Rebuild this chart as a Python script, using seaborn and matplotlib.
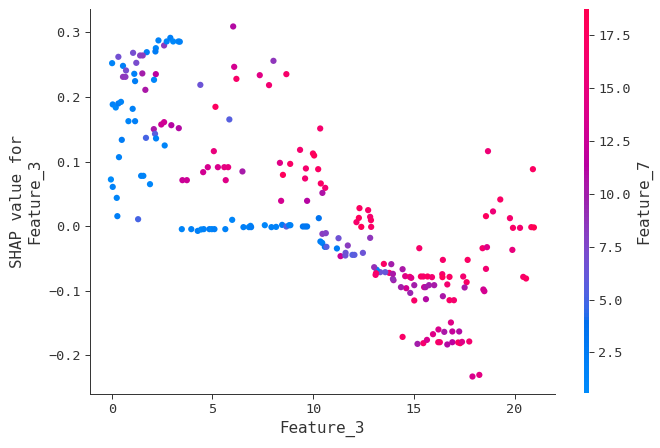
import numpy as np
import pandas as pd
import matplotlib
matplotlib.use("Agg")
import matplotlib.pyplot as plt
import seaborn as sns
from matplotlib.colors import ListedColormap, Normalize

# feature value (x), shap value (y), interaction feature (colour)
feature_3 = [
    2.32, 2.60, 2.73, 2.91, 3.05, 3.31, 3.38, 2.19, 2.17, 1.74,
    1.41, 1.54, 1.06, 1.22, 0.33, 0.02, 0.56, 0.71, 0.56, 0.68,
    1.12, 1.52, 2.19, 1.16, 2.10, 1.67, 4.40, 0.05, 0.20, 0.33,
    0.46, 1.04, 0.83, 1.16, 5.15, 2.09, 2.46, 2.60, 2.96, 3.33,
    2.15, 6.03, 8.03, 6.08, 6.19, 7.35, 8.67, 7.81, 5.84, 10.35,
    1.70, 2.20, 2.63, 0.50, 0.36, 5.07, 9.35, 9.99, 10.05, 8.35,
    8.86, 9.64, 10.25, 8.50, 9.60, 10.38, 10.60, 10.46, 4.54, 4.77,
    5.27, 5.59, 5.78, 6.49, 5.66, 3.51, 3.73, 1.46, 1.57, 1.90,
    -0.04, 0.05, 0.25, 0.28, 1.31, 8.41, 9.70, 3.48, 3.95, 4.27,
    4.44, 4.57, 4.85, 4.97, 5.10, 5.64, 5.98, 6.54, 6.81, 6.89,
    6.92, 7.60, 7.93, 8.16, 8.46, 8.67, 8.81, 8.87, 9.49, 9.60,
    9.70, 10.28, 10.46, 10.63, 10.36, 10.45, 10.58, 10.66, 11.18, 11.26,
    11.36, 11.61, 11.60, 11.72, 11.95, 12.05, 12.47, 12.83, 12.30, 12.73,
    12.27, 12.83, 12.87, 12.15, 12.39, 12.88, 15.27, 18.68, 20.91, 19.29,
    18.93, 18.58, 19.77, 19.92, 20.27, 20.83, 20.96, 18.41, 18.63, 19.89,
    18.58, 17.67, 16.44, 20.43, 20.57, 17.45, 17.62, 17.52, 18.45, 18.50,
    16.77, 16.41, 16.42, 16.66, 16.44, 16.77, 16.99, 15.35, 15.47, 15.68,
    15.90, 15.51, 15.58, 15.75, 16.01, 15.60, 15.02, 15.02, 14.82, 14.62,
    14.36, 14.57, 14.80, 14.87, 14.44, 13.99, 13.96, 13.88, 13.51, 13.78,
    13.96, 13.33, 13.58, 13.16, 13.03, 13.12, 13.10, 14.44, 15.18, 15.47,
    15.65, 15.95, 16.22, 16.51, 16.84, 16.91, 17.25, 16.21, 16.29, 16.66,
    16.91, 17.20, 17.30, 17.39, 17.75, 17.91, 18.25,
]

shap_values = [
    0.2875, 0.2797, 0.2859, 0.2915, 0.2859, 0.2859, 0.2855, 0.2755, 0.2704, 0.2693,
    0.2642, 0.2642, 0.2683, 0.2528, 0.2621, 0.2523, 0.2481, 0.2410, 0.2311, 0.2311,
    0.2358, 0.2364, 0.2353, 0.2245, 0.2265, 0.2110, 0.2187, 0.1884, 0.1837, 0.1899,
    0.1924, 0.1816, 0.1625, 0.1625, 0.1847, 0.1502, 0.1574, 0.1610, 0.1563, 0.1517,
    0.1429, 0.3091, 0.2559, 0.2466, 0.2280, 0.2337, 0.2353, 0.2183, 0.1652, 0.1512,
    0.1367, 0.1358, 0.1249, 0.1336, 0.1068, 0.1161, 0.1181, 0.1125, 0.1094, 0.0980,
    0.0964, 0.0893, 0.0882, 0.0794, 0.0738, 0.0661, 0.0593, 0.0515, 0.0836, 0.0913,
    0.0913, 0.0913, 0.0913, 0.0847, 0.0712, 0.0712, 0.0712, 0.0779, 0.0779, 0.0650,
    0.0723, 0.0608, 0.0438, 0.0155, 0.0108, 0.0392, 0.0392, -0.0046, -0.0046, -0.0073,
    -0.0051, -0.0046, -0.0046, -0.0046, -0.0046, -0.0046, 0.0098, -0.0015, -0.0015, 0.0005,
    -0.0015, 0.0015, -0.0015, -0.0011, 0.0020, -0.0005, 0.0015, 0.0015, -0.0005, -0.0005,
    -0.0005, 0.0124, -0.0119, -0.0108, -0.0237, -0.0259, -0.0320, -0.0320, -0.0345, -0.0186,
    -0.0464, -0.0413, -0.0454, -0.0299, -0.0444, -0.0444, -0.0413, -0.0181, 0.0279, 0.0248,
    0.0128, 0.0144, 0.0093, 0.0062, -0.0011, -0.0011, -0.0341, 0.1161, 0.0882, 0.0413,
    0.0228, 0.0155, 0.0124, -0.0026, -0.0026, -0.0015, -0.0020, -0.0341, -0.0325, -0.0367,
    -0.0661, -0.0522, -0.0522, -0.0785, -0.0810, -0.0779, -0.0867, -0.0949, -0.0980, -0.1006,
    -0.0785, -0.0743, -0.0789, -0.0902, -0.1084, -0.1146, -0.1146, -0.0779, -0.0779, -0.0779,
    -0.0789, -0.0944, -0.0944, -0.0913, -0.0913, -0.1130, -0.1150, -0.0913, -0.1033, -0.0960,
    -0.0944, -0.0774, -0.0785, -0.0800, -0.0666, -0.0836, -0.0816, -0.0588, -0.0584, -0.0723,
    -0.0738, -0.0712, -0.0712, -0.0676, -0.0635, -0.0728, -0.0754, -0.1714, -0.1822, -0.1811,
    -0.1760, -0.1672, -0.1599, -0.1636, -0.1491, -0.1630, -0.1630, -0.1796, -0.1796, -0.1831,
    -0.1796, -0.1800, -0.1811, -0.1791, -0.1785, -0.2327, -0.2302,
]

feature_7 = [
    1.8, 8.5, 1.4, 2.2, 1.1, 1.6, 2.0, 1.3, 2.4, 1.9,
    8.0, 8.3, 7.0, 7.2, 6.8, 1.5, 2.1, 7.1, 8.6, 8.4,
    1.7, 10.0, 11.5, 2.3, 1.2, 10.5, 6.5, 1.8, 1.0, 2.5,
    1.6, 2.0, 1.4, 2.2, 17.5, 10.4, 12.6, 12.8, 11.2, 11.0,
    5.8, 11.0, 8.6, 13.2, 16.8, 14.2, 16.6, 16.0, 5.5, 16.5,
    5.0, 1.9, 1.3, 2.4, 1.7, 15.0, 16.2, 17.6, 18.0, 14.0,
    17.0, 16.4, 17.2, 17.8, 16.1, 16.9, 16.0, 10.6, 13.0, 13.3,
    13.6, 14.6, 14.8, 10.2, 14.0, 12.5, 12.7, 2.0, 1.5, 1.2,
    0.6, 1.9, 1.4, 2.1, 5.0, 13.1, 11.1, 1.6, 2.0, 2.3,
    1.1, 1.8, 2.5, 1.3, 2.1, 1.7, 1.4, 2.2, 1.9, 1.5,
    2.6, 1.2, 2.0, 1.7, 2.4, 5.5, 1.6, 2.0, 3.2, 2.8,
    3.0, 3.4, 8.2, 8.0, 2.3, 1.8, 3.5, 5.6, 2.5, 6.6,
    12.5, 6.4, 6.7, 8.2, 5.4, 5.7, 6.5, 8.6, 17.4, 16.8,
    17.9, 16.3, 17.1, 16.6, 18.2, 17.0, 16.7, 15.5, 17.3, 16.9,
    15.6, 17.7, 16.5, 17.0, 16.2, 17.5, 18.7, 16.4, 14.0, 15.0,
    16.1, 17.2, 16.6, 16.8, 17.4, 16.3, 16.9, 10.5, 13.0, 13.2,
    17.1, 16.5, 17.8, 16.2, 10.4, 17.0, 16.4, 17.6, 16.7, 17.3,
    16.0, 13.0, 10.5, 10.0, 10.2, 11.0, 16.8, 10.0, 9.5, 13.0,
    10.0, 14.0, 16.6, 14.0, 10.5, 10.0, 9.0, 10.0, 16.9, 16.0,
    10.5, 6.5, 6.3, 2.0, 9.0, 17.2, 16.5, 17.0, 10.0, 16.4,
    13.5, 14.0, 13.5, 10.5, 14.0, 12.0, 11.0, 17.1, 16.3, 11.0,
    11.5, 16.8, 17.4, 14.0, 16.2, 13.5, 14.5,
]

cbar_ticks = [2.5, 5.0, 7.5, 10.0, 12.5, 15.0, 17.5]


def lab_to_rgb(L, a, b):
    fy = (L + 16) / 116
    fx = fy + a / 500
    fz = fy - b / 200

    def finv(t):
        return np.where(t > 6 / 29, t ** 3, 3 * (6 / 29) ** 2 * (t - 4 / 29))

    xyz = np.stack([0.95047 * finv(fx), finv(fy), 1.08883 * finv(fz)], axis=-1)
    m = np.array([[3.2406, -1.5372, -0.4986],
                  [-0.9689, 1.8758, 0.0415],
                  [0.0557, -0.2040, 1.0570]])
    lin = xyz @ m.T
    lin = np.clip(lin, 0, 1)
    rgb = np.where(lin > 0.0031308, 1.055 * lin ** (1 / 2.4) - 0.055, 12.92 * lin)
    return np.clip(rgb, 0, 1)


# shap-like red/blue map, interpolated in LCH
n = 100
l_vals = np.concatenate([np.linspace(54, 40, n // 2), np.linspace(40, 54, n // 2)])
c_vals = np.linspace(70, 90, n)
h_vals = np.linspace(4.6588, 0.35470565 + 2 * np.pi, n)
red_blue = ListedColormap(lab_to_rgb(l_vals, c_vals * np.cos(h_vals), c_vals * np.sin(h_vals)))

df = pd.DataFrame({"Feature_3": feature_3, "shap": shap_values, "Feature_7": feature_7})
vmin, vmax = 0.57, 18.7

sns.set_style("white")
plt.rcParams["font.family"] = ["DejaVu Sans Mono", "DejaVu Sans"]
axis_color = "#333333"

fig = plt.figure(figsize=(7.5, 448 / 88), dpi=88)
ax = fig.add_axes([0.136, 0.1205, 0.705, 0.8595])
cax = fig.add_axes([0.885, 0.122, 0.0075, 0.857])

sns.scatterplot(data=df, x="Feature_3", y="shap", hue="Feature_7", palette=red_blue,
                hue_norm=(vmin, vmax), s=26, linewidth=0, legend=False, ax=ax)

ax.set_xlabel("Feature_3", fontsize=13, color=axis_color)
ax.set_ylabel("SHAP value for\nFeature_3", fontsize=13, color=axis_color)
ax.set_xticks([0, 5, 10, 15, 20])
ax.set_yticks([-0.2, -0.1, 0.0, 0.1, 0.2, 0.3])
ax.tick_params(labelsize=11, labelcolor=axis_color, color=axis_color,
               bottom=True, left=True, length=4)
for side in ["top", "right"]:
    ax.spines[side].set_visible(False)
for side in ["left", "bottom"]:
    ax.spines[side].set_color(axis_color)

sm = plt.cm.ScalarMappable(cmap=red_blue, norm=Normalize(vmin, vmax))
cb = fig.colorbar(sm, cax=cax, ticks=cbar_ticks)
cb.outline.set_visible(False)
cb.set_label("Feature_7", size=13, color=axis_color)
cb.ax.tick_params(labelsize=11, labelcolor=axis_color, color=axis_color, length=4)

fig.savefig("out.png", dpi=88)
